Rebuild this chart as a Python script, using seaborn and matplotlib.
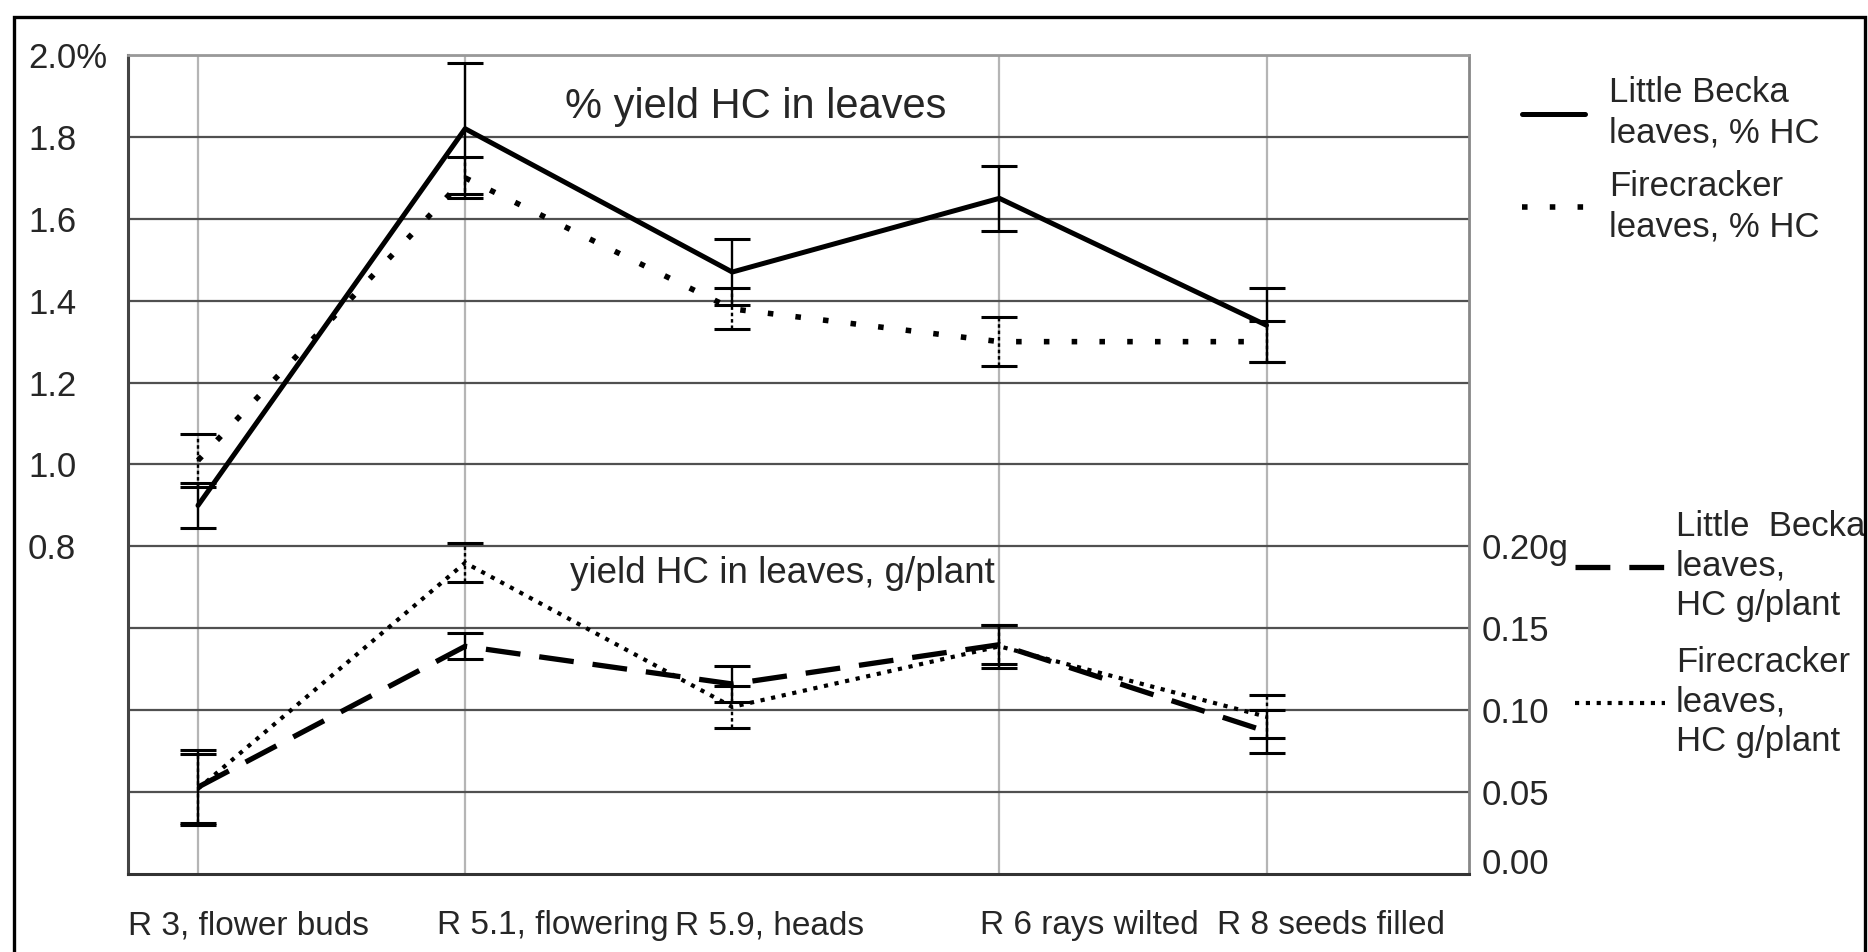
import numpy as np
import pandas as pd
import matplotlib
matplotlib.use("Agg")
import matplotlib.pyplot as plt
from matplotlib.lines import Line2D
from matplotlib.patches import Rectangle
import seaborn as sns

# growth stages (x axis)
stages = ["R 3, flower buds", "R 5.1, flowering", "R 5.9, heads",
          "R 6 rays wilted", "R 8 seeds filled"]

# % yield HC in leaves (left axis)
lb_pct = [0.90, 1.82, 1.47, 1.65, 1.34]
lb_pct_err = [0.055, 0.16, 0.08, 0.08, 0.09]
fc_pct = [1.01, 1.70, 1.38, 1.30, 1.30]
fc_pct_err = [0.065, 0.05, 0.05, 0.06, 0.05]

# yield HC in leaves, g/plant (right axis)
lb_g = [0.053, 0.139, 0.116, 0.140, 0.087]
lb_g_err = [0.023, 0.008, 0.011, 0.012, 0.013]
fc_g = [0.052, 0.190, 0.102, 0.139, 0.096]
fc_g_err = [0.021, 0.012, 0.013, 0.013, 0.013]

left_ticks = [0.8, 1.0, 1.2, 1.4, 1.6, 1.8, 2.0]
left_labels = ["0.8", "1.0", "1.2", "1.4", "1.6", "1.8", "2.0%"]
right_ticks = [0.0, 0.05, 0.10, 0.15, 0.20]
right_labels = ["0.00", "0.05", "0.10", "0.15", "0.20g"]

df = pd.DataFrame({
    "pos": np.arange(len(stages)),
    "lb_pct": lb_pct, "fc_pct": fc_pct,
    "lb_g": lb_g, "fc_g": fc_g,
})

sns.set_style("white")
plt.rcParams['font.family'] = ['Liberation Sans', 'DejaVu Sans']
FS = 25

W, H = 1868, 952
fig = plt.figure(figsize=(W / 100, H / 100), dpi=100)
ax = fig.add_axes([128 / W, 1 - 874 / H, (1469 - 128) / W, (874 - 55) / H])
ax2 = ax.twinx()

# lines
sns.lineplot(data=df, x="pos", y="lb_pct", ax=ax, color="black", lw=3.6,
             legend=False)
sns.lineplot(data=df, x="pos", y="fc_pct", ax=ax, color="black", lw=4.0,
             linestyle=(0, (1, 4)), legend=False)
sns.lineplot(data=df, x="pos", y="lb_g", ax=ax2, color="black", lw=3.8,
             linestyle=(0, (6.6, 3.6)), legend=False)
sns.lineplot(data=df, x="pos", y="fc_g", ax=ax2, color="black", lw=3.0,
             linestyle=(0, (1, 1.6)), legend=False)


def add_bars(axis, y, err, dotted):
    eb = axis.errorbar(df["pos"], y, yerr=err, fmt="none", ecolor="black",
                       elinewidth=1.7, capsize=13, capthick=2.2)
    if dotted:
        eb[2][0].set_linestyle((0, (1.5, 1.2)))


add_bars(ax, lb_pct, lb_pct_err, False)
add_bars(ax, fc_pct, fc_pct_err, True)
add_bars(ax2, lb_g, lb_g_err, False)
add_bars(ax2, fc_g, fc_g_err, True)

# axes limits and ticks
ax.set_xlim(-0.251, 4.758)
ax.set_ylim(0, 2.0)
ax2.set_ylim(0, 0.5)

ax.set_yticks(left_ticks, labels=left_labels)
ax.set_yticks([0.2, 0.4, 0.6], minor=True)
ax2.set_yticks(right_ticks, labels=right_labels)

# vertical grid only at four of the stages, labels set off to the right
ax.set_xticks([0, 1, 3, 4], labels=[""] * 4)
ax.set_xticks([-0.262, 0.896, 1.785, 2.928, 3.816], labels=stages, minor=True)
for lbl in ax.get_xticklabels(minor=True):
    lbl.set_horizontalalignment("left")

ax.grid(axis="y", which="both", color="#505050", lw=1.6)
ax.grid(axis="x", which="major", color="#b5b5b5", lw=1.6)
ax.set_axisbelow(True)

ax.tick_params(axis="x", which="both", length=0, labelsize=24, pad=26)
ax.tick_params(axis="y", which="both", length=0, labelsize=FS, pad=72)
for lbl in ax.get_yticklabels():
    lbl.set_horizontalalignment("left")
ax2.tick_params(axis="y", length=0, labelsize=FS, pad=9)
ax2.get_yticklabels()[0].set_verticalalignment("baseline")
ax2.grid(False)

ax.set_xlabel("")
ax.set_ylabel("")
ax2.set_ylabel("")

for s in ax2.spines.values():
    s.set_visible(False)
ax.spines["left"].set_color("#444444")
ax.spines["left"].set_linewidth(2.2)
ax.spines["bottom"].set_color("#333333")
ax.spines["bottom"].set_linewidth(2.2)
ax.spines["top"].set_color("#999999")
ax.spines["top"].set_linewidth(2.0)
ax.spines["right"].set_color("#888888")
ax.spines["right"].set_linewidth(2.0)

# panel titles
ax.text(0.468, 0.936, "% yield HC in leaves", transform=ax.transAxes,
        ha="center", va="center", fontsize=30)
ax.text(0.488, 0.367, "yield HC in leaves, g/plant", transform=ax.transAxes,
        ha="center", va="center", fontsize=26.5)

# legends
h1 = [Line2D([], [], color="black", lw=3.6),
      Line2D([], [], color="black", lw=4.0, linestyle=(0, (1, 4)))]
leg1 = ax.legend(h1, ["Little Becka\nleaves, % HC", "Firecracker\nleaves, % HC"],
                 loc="upper left", bbox_to_anchor=(1522 / W, 1 - 76 / H),
                 bbox_transform=fig.transFigure, frameon=False, fontsize=FS,
                 handlelength=1.8, handletextpad=0.7, labelspacing=0.57,
                 borderpad=0, borderaxespad=0)
for t in leg1.get_texts():
    t.set_linespacing(1.3)

h2 = [Line2D([], [], color="black", lw=3.8, linestyle=(0, (6.6, 3.6))),
      Line2D([], [], color="black", lw=3.0, linestyle=(0, (1, 1.6)))]
leg2 = ax2.legend(h2, ["Little  Becka\nleaves,\nHC g/plant",
                       "Firecracker\nleaves,\nHC g/plant"],
                  loc="upper left", bbox_to_anchor=(1575 / W, 1 - 510 / H),
                  bbox_transform=fig.transFigure, frameon=False, fontsize=FS,
                  handlelength=2.6, handletextpad=0.3, labelspacing=0.7,
                  borderpad=0, borderaxespad=0)
for t in leg2.get_texts():
    t.set_linespacing(1.25)

# outer frame
fig.patches.append(Rectangle((14 / W, -0.05), (1865 - 14) / W, 1 - 17 / H + 0.05,
                             transform=fig.transFigure, fill=False,
                             edgecolor="black", lw=2.4, clip_on=False))

fig.savefig("out.png", dpi=100, facecolor="white")
